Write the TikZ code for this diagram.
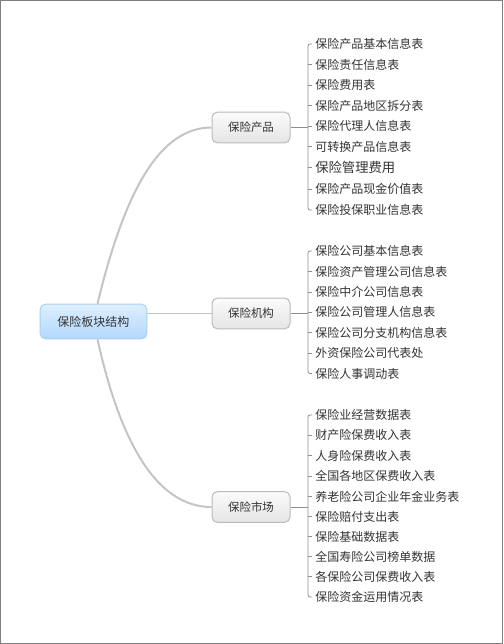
\documentclass[tikz,border=0pt]{standalone}
\usepackage{fontspec}
\setmainfont{Noto Sans CJK SC}
\usetikzlibrary{positioning,calc}
\definecolor{Frame}{HTML}{808080}
\definecolor{Ink}{HTML}{333333}
\definecolor{Wire}{HTML}{C4C4C4}
\definecolor{Rail}{HTML}{8E8E8E}
\definecolor{RootTop}{HTML}{DDEFFF}
\definecolor{RootBot}{HTML}{B3D8FC}
\definecolor{RootLine}{HTML}{A8D0F2}
\definecolor{BoxTop}{HTML}{FBFBFB}
\definecolor{BoxBot}{HTML}{E5E5E5}
\definecolor{BoxLine}{HTML}{BBBBBB}

\begin{document}
\begin{tikzpicture}[x=0.75pt,y=-0.75pt,
  rootbox/.style={rounded corners=4pt,draw=RootLine,line width=0.75pt,top color=RootTop,bottom color=RootBot,
    minimum width=80pt,minimum height=26pt,inner sep=0pt,text=Ink,font=\fontsize{9}{11}\selectfont},
  branchbox/.style={rounded corners=4pt,draw=BoxLine,line width=0.75pt,top color=BoxTop,bottom color=BoxBot,
    minimum width=58.5pt,minimum height=23pt,inner sep=0pt,text=Ink,font=\fontsize{8.6}{11}\selectfont},
  leaf/.style={anchor=west,inner xsep=2.25pt,inner ysep=0pt,text=Ink,font=\fontsize{9}{11}\selectfont},
  trunk/.style={Wire,line width=1.5pt},
  rail/.style={Rail,line width=0.6pt}]
\useasboundingbox (0,0) rectangle (504,644);
\draw[Frame,line width=1.1pt] (0.75,0.75) rectangle (502.5,643.25);

% root and branches
\node[rootbox] (root) at (93.5,321.5) {保险板块结构};
\node[branchbox] (prod) at (251,127.5) {保险产品};
\node[branchbox] (inst) at (251,313.5) {保险机构};
\node[branchbox] (mkt) at (251,507) {保险市场};

\draw[trunk] ($(root.north)+(4,0)$) .. controls (125,190) and (160,127.5) .. (prod.west);
\draw[trunk,line width=1.2pt] (root.east |- inst.west) -- (inst.west);
\draw[trunk] ($(root.south)+(4,0)$) .. controls (122,450) and (160,507) .. (mkt.west);

% 保险产品
\coordinate (prodrail) at (308,127.5);
\node[leaf] (p1) at (312,44) {保险产品基本信息表};
\node[leaf] (p2) at (312,64.5) {保险责任信息表};
\node[leaf] (p3) at (312,85) {保险费用表};
\node[leaf] (p4) at (312,105.5) {保险产品地区拆分表};
\node[leaf] (p5) at (312,126) {保险代理人信息表};
\node[leaf] (p6) at (312,146.5) {可转换产品信息表};
\node[leaf,font=\fontsize{10}{12}\selectfont] (p7) at (312,167.5) {保险管理费用};
\node[leaf] (p8) at (312,189) {保险产品现金价值表};
\node[leaf] (p9) at (312,210) {保险投保职业信息表};
\draw[rail] (prod.east) -- (prodrail);
\draw[rail,rounded corners=1.5pt] (p1.west) -- (p1.west -| prodrail) -- (p9.west -| prodrail) -- (p9.west);
\draw[rail] (p2.west -| prodrail) -- (p2.west);
\draw[rail] (p3.west -| prodrail) -- (p3.west);
\draw[rail] (p4.west -| prodrail) -- (p4.west);
\draw[rail] (p5.west -| prodrail) -- (p5.west);
\draw[rail] (p6.west -| prodrail) -- (p6.west);
\draw[rail] (p7.west -| prodrail) -- (p7.west);
\draw[rail] (p8.west -| prodrail) -- (p8.west);

% 保险机构
\coordinate (instrail) at (308,313.5);
\node[leaf] (i1) at (312,251) {保险公司基本信息表};
\node[leaf] (i2) at (312,271.5) {保险资产管理公司信息表};
\node[leaf] (i3) at (312,292) {保险中介公司信息表};
\node[leaf] (i4) at (312,312) {保险公司管理人信息表};
\node[leaf] (i5) at (312,332.5) {保险公司分支机构信息表};
\node[leaf] (i6) at (312,353) {外资保险公司代表处};
\node[leaf] (i7) at (312,373.5) {保险人事调动表};
\draw[rail] (inst.east) -- (instrail);
\draw[rail,rounded corners=1.5pt] (i1.west) -- (i1.west -| instrail) -- (i7.west -| instrail) -- (i7.west);
\draw[rail] (i2.west -| instrail) -- (i2.west);
\draw[rail] (i3.west -| instrail) -- (i3.west);
\draw[rail] (i4.west -| instrail) -- (i4.west);
\draw[rail] (i5.west -| instrail) -- (i5.west);
\draw[rail] (i6.west -| instrail) -- (i6.west);

% 保险市场
\coordinate (mktrail) at (308,507);
\node[leaf] (m1) at (312,415) {保险业经营数据表};
\node[leaf] (m2) at (312,435) {财产险保费收入表};
\node[leaf] (m3) at (312,455.5) {人身险保费收入表};
\node[leaf] (m4) at (312,476) {全国各地区保费收入表};
\node[leaf] (m5) at (312,496.5) {养老险公司企业年金业务表};
\node[leaf] (m6) at (312,516.5) {保险赔付支出表};
\node[leaf] (m7) at (312,536.5) {保险基础数据表};
\node[leaf] (m8) at (312,556.5) {全国寿险公司榜单数据};
\node[leaf] (m9) at (312,576.5) {各保险公司保费收入表};
\node[leaf] (m10) at (312,597) {保险资金运用情况表};
\draw[rail] (mkt.east) -- (mktrail);
\draw[rail,rounded corners=1.5pt] (m1.west) -- (m1.west -| mktrail) -- (m10.west -| mktrail) -- (m10.west);
\draw[rail] (m2.west -| mktrail) -- (m2.west);
\draw[rail] (m3.west -| mktrail) -- (m3.west);
\draw[rail] (m4.west -| mktrail) -- (m4.west);
\draw[rail] (m5.west -| mktrail) -- (m5.west);
\draw[rail] (m6.west -| mktrail) -- (m6.west);
\draw[rail] (m7.west -| mktrail) -- (m7.west);
\draw[rail] (m8.west -| mktrail) -- (m8.west);
\draw[rail] (m9.west -| mktrail) -- (m9.west);
\end{tikzpicture}
\end{document}
